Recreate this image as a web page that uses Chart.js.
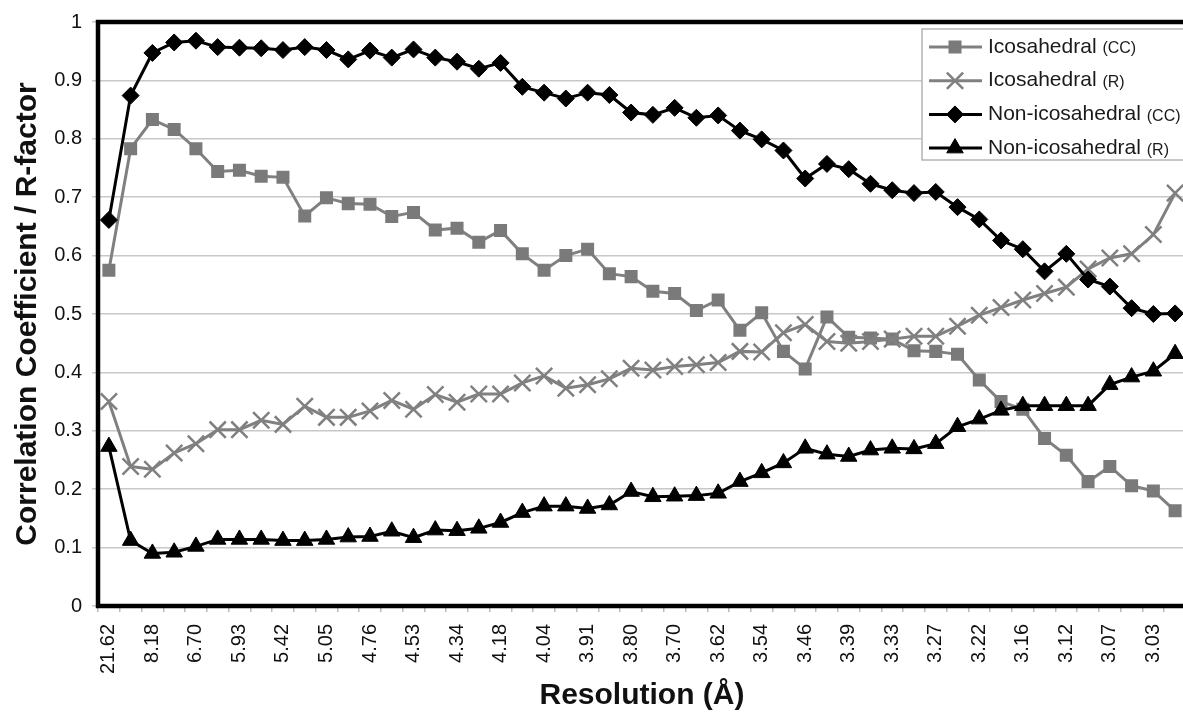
<!DOCTYPE html>
<html>
<head>
  <title>Correlation Coefficient / R-factor vs Resolution</title>
  <script src="https://cdn.jsdelivr.net/npm/chart.js"></script>
  <style>
    html, body {
      margin: 0;
      padding: 0;
      background: #fff;
      overflow: hidden;
    }

    /* the plot runs a few pixels past the right edge, as in the original */
    #frame {
      position: relative;
      width: 1183px;
      height: 722px;
      overflow: hidden;
    }

    #myChart {
      position: absolute;
      left: 0;
      top: 0;
      display: block;
    }
  </style>
</head>
<body>
  <div id="frame">
    <canvas id="myChart" width="1200" height="722"></canvas>
  </div>

  <script>
    // resolution (Å) shown under every second shell
    const tickLabels = ['21.62', '8.18', '6.70', '5.93', '5.42', '5.05', '4.76', '4.53', '4.34', '4.18',
      '4.04', '3.91', '3.80', '3.70', '3.62', '3.54', '3.46', '3.39', '3.33', '3.27',
      '3.22', '3.16', '3.12', '3.07', '3.03'];

    const seriesNames = ['Icosahedral', 'Icosahedral', 'Non-icosahedral', 'Non-icosahedral'];
    const seriesTags = ['(CC)', '(R)', '(CC)', '(R)'];

    const icoCC = [0.575, 0.783, 0.833, 0.816, 0.783, 0.744, 0.746, 0.736, 0.734, 0.668,
      0.699, 0.689, 0.688, 0.667, 0.674, 0.644, 0.647, 0.623, 0.643, 0.603,
      0.575, 0.600, 0.611, 0.569, 0.564, 0.539, 0.535, 0.506, 0.524, 0.472,
      0.502, 0.436, 0.406, 0.495, 0.460, 0.459, 0.457, 0.437, 0.436, 0.431,
      0.387, 0.350, 0.337, 0.287, 0.258, 0.213, 0.239, 0.206, 0.197, 0.163];

    const icoR = [0.350, 0.239, 0.234, 0.262, 0.278, 0.302, 0.302, 0.318, 0.311, 0.342,
      0.323, 0.323, 0.334, 0.352, 0.337, 0.362, 0.349, 0.363, 0.363, 0.382,
      0.394, 0.373, 0.379, 0.389, 0.407, 0.404, 0.410, 0.413, 0.417, 0.436,
      0.435, 0.468, 0.482, 0.453, 0.450, 0.453, 0.457, 0.462, 0.462, 0.479,
      0.498, 0.511, 0.524, 0.535, 0.546, 0.577, 0.596, 0.603, 0.636, 0.707];

    const nonCC = [0.661, 0.874, 0.947, 0.965, 0.968, 0.957, 0.956, 0.955, 0.952, 0.957,
      0.952, 0.936, 0.951, 0.939, 0.953, 0.939, 0.932, 0.920, 0.930, 0.889,
      0.879, 0.869, 0.879, 0.875, 0.845, 0.841, 0.853, 0.836, 0.840, 0.814,
      0.799, 0.780, 0.732, 0.757, 0.748, 0.723, 0.712, 0.707, 0.709, 0.683,
      0.662, 0.626, 0.611, 0.573, 0.603, 0.559, 0.547, 0.510, 0.500, 0.501];

    const nonR = [0.273, 0.112, 0.090, 0.092, 0.102, 0.114, 0.114, 0.114, 0.112, 0.112,
      0.114, 0.118, 0.119, 0.128, 0.117, 0.130, 0.129, 0.133, 0.143, 0.160,
      0.171, 0.171, 0.167, 0.173, 0.196, 0.187, 0.188, 0.189, 0.193, 0.213,
      0.228, 0.245, 0.270, 0.260, 0.256, 0.267, 0.270, 0.269, 0.278, 0.307,
      0.320, 0.335, 0.343, 0.343, 0.343, 0.343, 0.379, 0.392, 0.402, 0.432];

    // one category per shell, only every second one is labelled
    const resolution = [];
    tickLabels.forEach(l => resolution.push(l, ''));

    const FONT = "'Liberation Sans', Arial, sans-serif";
    const GREY = '#808080';

    // thick frame round the plot area, like the Excel original
    const plotFrame = {
      id: 'plotFrame',
      beforeDatasetsDraw(chart) {
        const { ctx, chartArea: a } = chart;
        ctx.save();
        ctx.strokeStyle = '#000';
        ctx.lineWidth = 4.5;
        ctx.strokeRect(a.left, a.top, a.right - a.left, a.bottom - a.top);
        ctx.restore();
      }
    };

    // legend with the small "(CC)" / "(R)" suffixes
    const legendBox = {
      id: 'legendBox',
      afterDraw(chart) {
        const ctx = chart.ctx;
        ctx.save();
        ctx.fillStyle = '#fff';
        ctx.strokeStyle = '#b4b4b4';
        ctx.lineWidth = 1.5;
        ctx.fillRect(922, 29, 300, 131);
        ctx.strokeRect(922, 29, 300, 131);
        chart.data.datasets.forEach((ds, i) => {
          const y = 47 + i * 33.7;
          ctx.strokeStyle = ds.borderColor;
          ctx.lineWidth = ds.borderWidth;
          ctx.beginPath();
          ctx.moveTo(929, y);
          ctx.lineTo(982, y);
          ctx.stroke();
          ctx.fillStyle = ds.pointBackgroundColor;
          ctx.strokeStyle = ds.pointBorderColor;
          ctx.lineWidth = ds.pointBorderWidth;
          Chart.helpers.drawPoint(ctx, {
            pointStyle: ds.pointStyle,
            radius: ds.pointRadius,
            borderWidth: ds.pointBorderWidth,
            rotation: 0
          }, 955, y);
          ctx.fillStyle = '#1a1a1a';
          ctx.textBaseline = 'middle';
          ctx.textAlign = 'left';
          ctx.font = '21px ' + FONT;
          const name = seriesNames[i] + ' ';
          ctx.fillText(name, 988, y);
          const w = ctx.measureText(name).width;
          ctx.font = '16px ' + FONT;
          ctx.fillText(seriesTags[i], 988 + w, y + 2);
        });
        ctx.restore();
      }
    };

    const ctx = document.getElementById('myChart').getContext('2d');
    new Chart(ctx, {
      type: 'line',
      data: {
        labels: resolution,
        datasets: [{
          label: seriesNames[0] + ' ' + seriesTags[0],
          data: icoCC,
          borderColor: GREY,
          borderWidth: 3,
          pointStyle: 'rect',
          pointRadius: 9.2,
          pointBackgroundColor: '#7a7a7a',
          pointBorderColor: '#7a7a7a',
          pointBorderWidth: 0,
          order: 3
        },
        {
          label: seriesNames[1] + ' ' + seriesTags[1],
          data: icoR,
          borderColor: GREY,
          borderWidth: 3,
          pointStyle: 'crossRot',
          pointRadius: 11.5,
          pointBackgroundColor: GREY,
          pointBorderColor: GREY,
          pointBorderWidth: 2.5,
          order: 2
        },
        {
          label: seriesNames[2] + ' ' + seriesTags[2],
          data: nonCC,
          borderColor: '#000',
          borderWidth: 3,
          pointStyle: 'rectRot',
          pointRadius: 8.5,
          pointBackgroundColor: '#000',
          pointBorderColor: '#000',
          pointBorderWidth: 1,
          order: 1
        },
        {
          label: seriesNames[3] + ' ' + seriesTags[3],
          data: nonR,
          borderColor: '#000',
          borderWidth: 3,
          pointStyle: 'triangle',
          pointRadius: 9.5,
          pointBackgroundColor: '#000',
          pointBorderColor: '#000',
          pointBorderWidth: 1,
          order: 0
        }]
      },
      options: {
        responsive: false,
        animation: false,
        events: [],
        layout: {
          padding: { top: 22, right: 12, left: 0, bottom: 0 }
        },
        elements: {
          line: { tension: 0, fill: false }
        },
        scales: {
          x: {
            offset: true,
            border: { display: false },
            grid: {
              offset: true,
              drawOnChartArea: false,
              color: '#b8b8b8',
              lineWidth: 1.5,
              tickLength: 6
            },
            ticks: {
              autoSkip: false,
              maxRotation: 90,
              minRotation: 90,
              padding: 12,
              color: '#111',
              font: { family: FONT, size: 20 }
            },
            title: {
              display: true,
              text: 'Resolution (Å)',
              color: '#111',
              font: { family: FONT, size: 30, weight: 'bold' },
              padding: { top: 0, bottom: 8 }
            },
            afterFit(s) {
              s.height = 116;
              s.paddingLeft = 0;
              s.paddingRight = 0;
            }
          },
          y: {
            min: 0,
            max: 1,
            border: { display: false },
            grid: {
              color: '#c8c8c8',
              lineWidth: 1.5,
              tickLength: 6
            },
            ticks: {
              stepSize: 0.1,
              padding: 10,
              color: '#111',
              font: { family: FONT, size: 20 },
              callback: v => String(Number(v.toFixed(1)))
            },
            title: {
              display: true,
              text: 'Correlation Coefficient / R-factor',
              color: '#111',
              font: { family: FONT, size: 30, weight: 'bold' },
              padding: { top: 10, bottom: 0 }
            },
            afterFit(s) { s.width = 98; }
          }
        },
        plugins: {
          legend: { display: false },
          tooltip: { enabled: false }
        }
      },
      plugins: [plotFrame, legendBox]
    });
  </script>
</body>
</html>
